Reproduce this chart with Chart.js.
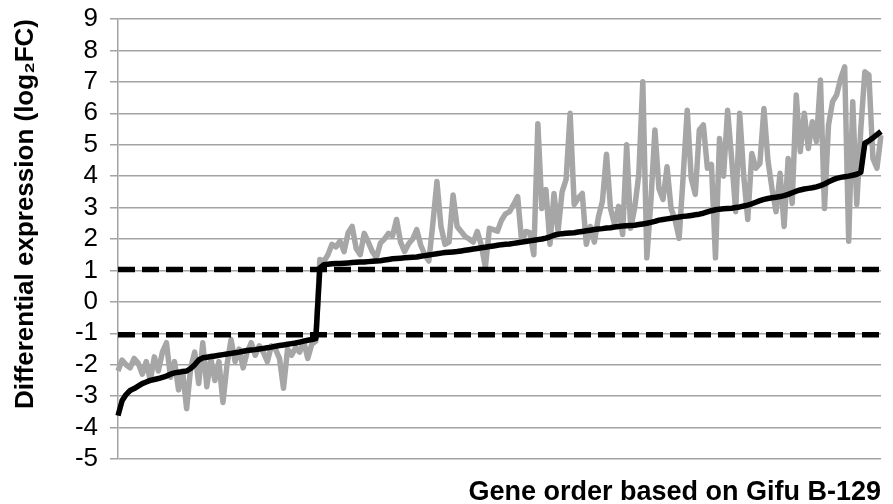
<!DOCTYPE html>
<html><head><meta charset="utf-8">
<script src="https://cdn.jsdelivr.net/npm/chart.js@4.4.1/dist/chart.umd.min.js"></script>
<style>html,body{margin:0;padding:0;background:#fff;}#wrap{width:893px;height:504px;}</style>
</head><body><div id="wrap"><canvas id="c" width="893" height="504"></canvas></div>
<script>
// Sorted differential expression (black line)
const sortedFC = [
-3.62,-3.15,-2.95,-2.82,-2.76,-2.68,-2.6,-2.55,-2.5,-2.47,
-2.44,-2.4,-2.36,-2.3,-2.26,-2.24,-2.22,-2.2,-2.12,-2.0,
-1.85,-1.78,-1.76,-1.74,-1.72,-1.7,-1.68,-1.66,-1.64,-1.62,
-1.6,-1.57,-1.55,-1.53,-1.52,-1.5,-1.48,-1.46,-1.44,-1.41,
-1.39,-1.37,-1.35,-1.33,-1.31,-1.28,-1.25,-1.22,-1.2,-1.17,
1.08,1.18,1.2,1.21,1.22,1.22,1.23,1.24,1.25,1.26,
1.27,1.27,1.28,1.29,1.3,1.31,1.33,1.35,1.37,1.38,
1.39,1.4,1.41,1.42,1.43,1.45,1.47,1.49,1.51,1.53,
1.55,1.57,1.58,1.59,1.6,1.62,1.64,1.66,1.68,1.7,
1.72,1.74,1.76,1.78,1.8,1.82,1.83,1.84,1.86,1.88,
1.9,1.92,1.94,1.96,1.98,2.0,2.03,2.07,2.12,2.15,
2.17,2.18,2.19,2.2,2.22,2.24,2.26,2.28,2.3,2.32,
2.33,2.35,2.36,2.38,2.4,2.41,2.42,2.43,2.44,2.46,
2.48,2.5,2.53,2.56,2.6,2.62,2.64,2.66,2.68,2.7,
2.72,2.73,2.75,2.77,2.79,2.82,2.86,2.9,2.93,2.95,
2.96,2.97,2.98,3.0,3.02,3.05,3.08,3.12,3.17,3.22,
3.26,3.29,3.31,3.33,3.35,3.38,3.42,3.47,3.52,3.56,
3.59,3.61,3.63,3.66,3.7,3.75,3.82,3.88,3.93,3.96,
3.98,4.0,4.03,4.06,4.12,5.05,5.12,5.22,5.32,5.42
];
// Expression in the other genotype (grey line)
const observedFC = [
-2.2,-1.85,-2.0,-2.1,-1.8,-1.95,-2.3,-1.9,-2.5,-1.75,
-2.2,-1.6,-1.3,-2.4,-1.9,-2.8,-2.2,-3.4,-2.1,-1.6,
-2.6,-1.3,-2.7,-1.8,-2.5,-1.9,-3.2,-2.0,-1.2,-1.9,
-1.5,-2.1,-1.6,-1.3,-1.7,-1.4,-1.6,-1.9,-1.4,-1.5,
-1.8,-2.75,-1.5,-1.7,-1.45,-1.6,-1.25,-1.8,-1.35,-1.25,
1.35,1.29,1.5,1.83,1.75,1.93,1.6,2.2,2.4,1.7,
1.5,2.18,1.9,1.6,1.4,1.87,2.0,2.18,2.1,2.62,
1.9,1.6,1.85,2.0,2.3,1.8,1.5,1.3,2.5,3.83,
2.4,1.83,1.9,3.4,2.4,2.24,2.08,2.0,1.9,2.24,
1.8,1.1,2.34,2.3,2.25,2.6,2.8,2.87,3.1,3.35,
1.9,2.24,2.2,1.5,5.67,2.97,3.57,1.83,3.45,2.24,
3.5,3.9,6.0,3.1,3.3,3.45,1.83,2.4,1.9,2.7,
3.2,4.7,2.97,2.47,3.04,2.14,5.0,2.34,3.0,4.05,
7.0,1.4,3.2,5.47,3.6,3.26,4.3,2.97,2.6,2.02,
4.0,6.1,3.93,3.42,5.47,5.63,4.25,4.37,1.4,5.2,
4.0,6.1,4.56,2.87,6.0,4.0,2.62,4.72,4.25,4.4,
6.15,4.5,3.6,2.87,4.09,2.4,4.56,3.13,6.58,4.78,
6.0,4.88,5.73,5.1,7.06,2.97,5.63,6.37,6.58,7.1,
7.48,1.93,6.37,3.1,5.5,7.32,7.22,4.56,4.25,5.3
];
const upperThreshold = 1.03;
const lowerThreshold = -1.05;
const yMin = -5, yMax = 9, yStep = 1;
const xTitle = 'Gene order based on Gifu B-129';
const yTitle = 'Differential expression (log\u2082FC)';

const genes = sortedFC.map((_, i) => i + 1);
const upperLine = genes.map(() => upperThreshold);
const lowerLine = genes.map(() => lowerThreshold);

const FONT = "'Liberation Sans', Arial, sans-serif";
const gridColor = '#a3a3a3';

new Chart(document.getElementById('c'), {
  type: 'line',
  data: {
    labels: genes,
    datasets: [
      { data: sortedFC, borderColor: '#000', borderWidth: 5.5, pointRadius: 0, tension: 0, borderJoinStyle: 'round' },
      { data: upperLine, borderColor: '#000', borderWidth: 5.5, borderDash: [17, 7], pointRadius: 0 },
      { data: lowerLine, borderColor: '#000', borderWidth: 5.5, borderDash: [17, 7], pointRadius: 0 },
      { data: observedFC, borderColor: '#a6a6a6', borderWidth: 5.5, pointRadius: 0, tension: 0, borderJoinStyle: 'round' }
    ]
  },
  options: {
    responsive: false,
    animation: false,
    devicePixelRatio: 1,
    layout: { padding: { top: 19, right: 12, left: 0, bottom: 0 } },
    plugins: { legend: { display: false }, tooltip: { enabled: false } },
    scales: {
      x: {
        type: 'category',
        offset: false,
        grid: { display: false },
        border: { display: false },
        ticks: { display: false },
        title: { display: true, text: xTitle, align: 'end', color: '#000',
                 font: { family: FONT, size: 27, weight: 'bold', lineHeight: 1 }, padding: { top: 0, bottom: -2 } },
        afterFit: s => { s.height = 45; s.paddingLeft = 0; s.paddingRight = 0; }
      },
      y: {
        min: yMin, max: yMax,
        ticks: { stepSize: yStep, autoSkip: false, color: '#000', font: { family: FONT, size: 26 }, padding: 12 },
        grid: { color: gridColor, lineWidth: 1.5, tickLength: 8 },
        border: { color: gridColor, width: 1.5 },
        title: { display: true, text: yTitle, align: 'end', color: '#000',
                 font: { family: FONT, size: 26, weight: 'bold' }, padding: { top: 10, bottom: 0 } },
        afterFit: s => { s.width = 118; s.paddingTop = 0; s.paddingBottom = 0; }
      }
    }
  }
});
</script></body></html>
